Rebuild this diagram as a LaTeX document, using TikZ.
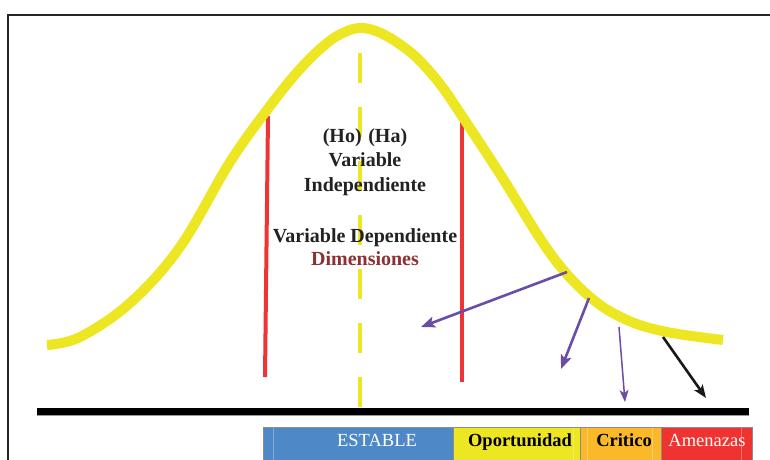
\documentclass[tikz,border=0pt]{standalone}
\usepackage{fontspec}
\setmainfont{Liberation Serif}
\usetikzlibrary{arrows.meta,calc}
\definecolor{curveY}{HTML}{ECE623}
\definecolor{lineR}{HTML}{EE3533}
\definecolor{arrP}{HTML}{6A4DA8}
\definecolor{txtD}{HTML}{222222}
\definecolor{dimR}{HTML}{8E3034}
\definecolor{segB}{HTML}{4F88C6}
\definecolor{segY}{HTML}{ECE623}
\definecolor{segO}{HTML}{FBB829}
\definecolor{segR}{HTML}{EE3330}
\tikzset{
  bell/.style={curveY, line width=10pt, line cap=butt, line join=round},
  redline/.style={lineR, line width=4pt},
  meanline/.style={curveY, line width=4.5pt, dash pattern=on 30pt off 24pt},
  toparrow/.style={arrP, line width=2.6pt, -{Stealth[length=14pt,width=11pt,inset=3pt]}},
  thinarrow/.style={arrP, line width=1.5pt, -{Stealth[length=12pt,width=9pt,inset=3pt]}},
  blackarrow/.style={black!90, line width=2.6pt, -{Stealth[length=13pt,width=10pt,inset=3pt]}},
  maintxt/.style={anchor=base, inner sep=0pt, text=txtD, font=\fontsize{20}{24}\selectfont\bfseries},
  seg/.style={anchor=north west, draw=black!45, line width=1pt, minimum height=40pt, inner sep=0pt},
  segtxt/.style={anchor=base, inner sep=0pt, font=\fontsize{18.5}{22}\selectfont},
  sepline/.style={white, opacity=0.3, line width=1pt}
}
\begin{document}
\begin{tikzpicture}[x=1pt,y=-1pt]
\useasboundingbox (0,0) rectangle (770,459);
\fill[white] (0,0) rectangle (770,459);
% frame
\draw[black!85, line width=1.6pt] (8,470) -- (8,15) -- (780,15);
% mean dashed line
\coordinate (mtop) at (360,53);
\coordinate (mbot) at (360,407);
\draw[meanline] (mtop) -- (mbot);
% red lines
\coordinate (rl1) at (268,116);
\coordinate (rl2) at (265,377);
\coordinate (rr1) at (462,122);
\coordinate (rr2) at (462,382);
\draw[redline] (rl1) -- (rl2);
\draw[redline] (rr1) -- (rr2);
% bell curve
\draw[bell] plot[smooth, tension=0.6] coordinates {(47,345) (80,337) (130,303) (180,247) (230,162) (270,106) (300,69) (327,43) (345,32) (360,28) (376,31) (395,41) (417,58) (440,84) (460,113) (500,174) (550,253) (590,297) (627,320) (667,332) (723,340)};
% arrows
\coordinate (a1s) at (567,272); \coordinate (a1e) at (421,327);
\coordinate (a2s) at (589,298); \coordinate (a2e) at (561,369);
\coordinate (a3s) at (619,327); \coordinate (a3e) at (625,402);
\coordinate (a4s) at (663,337); \coordinate (a4e) at (706,398);
\draw[toparrow] (a1s) -- (a1e);
\draw[toparrow] (a2s) -- (a2e);
\draw[thinarrow] (a3s) -- (a3e);
\draw[blackarrow] (a4s) -- (a4e);
% texts
\node[maintxt] (t1) at (365,142) {(Ho)\,\,(Ha)};
\node[maintxt] (t2) at (365,166) {Variable};
\node[maintxt] (t3) at (365,191) {Independiente};
\node[maintxt] (t4) at (365,242) {Variable Dependiente};
\node[maintxt, text=dimR] (t5) at (365,265) {Dimensiones};
% baseline
\coordinate (b1) at (37,411);
\coordinate (b2) at (749,411);
\draw[black!40, line width=7pt] ($(b1)+(0,1.5)$) -- ($(b2)+(0,1.5)$);
\draw[black, line width=7pt] (b1) -- (b2);
% bottom bar
\node[seg, fill=segB, minimum width=190pt] (s1) at (263,427) {};
\node[seg, fill=segY, minimum width=127pt] (s2) at (453,427) {};
\node[seg, fill=segO, minimum width=81pt] (s3) at (580,427) {};
\node[seg, fill=segR, minimum width=91pt] (s4) at (661,427) {};
\draw[sepline] (273,428) -- (273,470);
\draw[sepline] (573,428) -- (573,470);
\draw[sepline] (587,428) -- (587,470);
\draw[sepline] (652,428) -- (652,470);
\draw[sepline] (741,428) -- (741,470);
\node[segtxt, text=white] (l1) at (377,446) {ESTABLE};
\node[segtxt, text=black, font=\fontsize{18.5}{22}\selectfont\bfseries] (l2) at (520,446) {Oportunidad};
\node[segtxt, text=black, font=\fontsize{18.5}{22}\selectfont\bfseries] (l3) at (624,446) {Critico};
\node[segtxt, text=white] (l4) at (707,446) {Amenazas};
\end{tikzpicture}
\end{document}
